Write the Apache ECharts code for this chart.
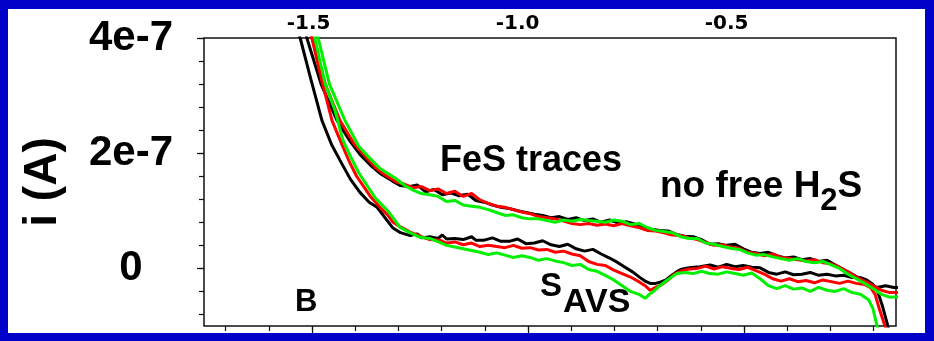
<!DOCTYPE html>
<html>
<head>
<meta charset="utf-8">
<title>i (A) traces</title>
<script src="https://cdn.jsdelivr.net/npm/echarts@6/dist/echarts.min.js"></script>
<style>
  html, body { margin: 0; padding: 0; background: #0000c8; }
  #paper { position: absolute; left: 8px; top: 9px; width: 917px; height: 324px; background: #fff; }
  #chart { position: absolute; left: 0; top: 0; width: 934px; height: 341px; }
</style>
</head>
<body>
<div id="paper"></div>
<div id="chart"></div>
<script>
// potential (V) vs current (unit 1e-7 A)
const topLabels = [-1.5, -1.0, -0.5]
const bottomTicks = [-1.7, -1.6, -1.5, -1.4, -1.3, -1.2, -1.1, -1.0, -0.9, -0.8, -0.7, -0.6, -0.5, -0.4, -0.3, -0.2]
const bottomMajor = [-1.5, -1.0, -0.5]
const yLabels = [0, 2, 4]
const yTicks = [-0.8, -0.4, 0, 0.4, 0.8, 1.2, 1.6, 2.0, 2.4, 2.8, 3.2, 3.6, 4.0]

// lower group (S AVS)
const savsBlack = [
  [-1.525, 4.1], [-1.52, 4.0], [-1.495, 3.3], [-1.468, 2.57], [-1.445, 2.15], [-1.425, 1.88],
  [-1.40, 1.55], [-1.377, 1.32], [-1.355, 1.15], [-1.336, 1.06], [-1.315, 0.86], [-1.298, 0.70],
  [-1.28, 0.62], [-1.257, 0.57], [-1.24, 0.60], [-1.23, 0.53], [-1.21, 0.55], [-1.19, 0.52],
  [-1.18, 0.58], [-1.17, 0.51], [-1.15, 0.52], [-1.13, 0.50], [-1.11, 0.55], [-1.10, 0.49],
  [-1.08, 0.49], [-1.06, 0.53], [-1.04, 0.47], [-1.02, 0.47], [-1.00, 0.51], [-0.98, 0.43],
  [-0.96, 0.44], [-0.94, 0.48], [-0.92, 0.41], [-0.90, 0.38], [-0.88, 0.42], [-0.86, 0.34],
  [-0.84, 0.30], [-0.82, 0.33], [-0.80, 0.25], [-0.78, 0.18], [-0.76, 0.10], [-0.743, 0.02],
  [-0.725, -0.06], [-0.707, -0.16], [-0.695, -0.22], [-0.683, -0.26], [-0.67, -0.26], [-0.659, -0.24],
  [-0.645, -0.20], [-0.635, -0.14], [-0.62, -0.06], [-0.61, -0.02], [-0.59, 0.01], [-0.564, 0.03],
  [-0.54, 0.06], [-0.52, 0.02], [-0.50, 0.07], [-0.48, 0.03], [-0.46, 0.05], [-0.44, 0.02],
  [-0.42, 0.01], [-0.40, -0.07], [-0.38, -0.10], [-0.36, -0.06], [-0.34, -0.11], [-0.32, -0.10],
  [-0.30, -0.07], [-0.28, -0.12], [-0.26, -0.10], [-0.24, -0.13], [-0.22, -0.12], [-0.20, -0.16],
  [-0.18, -0.16], [-0.165, -0.20], [-0.15, -0.28], [-0.14, -0.38], [-0.128, -0.64], [-0.114, -1.01],
  [-0.108, -1.2]
]
const savsRed = [
  [-1.497, 4.1], [-1.492, 4.0], [-1.468, 3.25], [-1.444, 2.57], [-1.42, 2.15], [-1.401, 1.83],
  [-1.385, 1.60], [-1.370, 1.44], [-1.35, 1.23], [-1.329, 1.06], [-1.31, 0.92], [-1.298, 0.80],
  [-1.28, 0.72], [-1.257, 0.63], [-1.23, 0.55], [-1.21, 0.50], [-1.186, 0.49], [-1.17, 0.44],
  [-1.15, 0.46], [-1.13, 0.41], [-1.11, 0.44], [-1.09, 0.38], [-1.07, 0.40], [-1.05, 0.38],
  [-1.03, 0.36], [-1.01, 0.40], [-0.99, 0.35], [-0.97, 0.36], [-0.95, 0.32], [-0.93, 0.33],
  [-0.91, 0.28], [-0.89, 0.30], [-0.87, 0.25], [-0.85, 0.22], [-0.83, 0.12], [-0.81, 0.07],
  [-0.79, 0.05], [-0.77, -0.03], [-0.75, -0.09], [-0.73, -0.15], [-0.71, -0.23], [-0.695, -0.30],
  [-0.683, -0.38], [-0.67, -0.33], [-0.655, -0.28], [-0.64, -0.20], [-0.625, -0.10], [-0.61, -0.05],
  [-0.59, -0.01], [-0.57, 0.0], [-0.55, 0.04], [-0.53, -0.01], [-0.51, 0.03], [-0.49, 0.0],
  [-0.47, -0.02], [-0.45, 0.02], [-0.43, -0.04], [-0.41, -0.10], [-0.39, -0.18], [-0.37, -0.22],
  [-0.35, -0.18], [-0.33, -0.23], [-0.31, -0.21], [-0.29, -0.25], [-0.27, -0.20], [-0.25, -0.23],
  [-0.23, -0.26], [-0.21, -0.22], [-0.19, -0.26], [-0.17, -0.28], [-0.155, -0.34], [-0.145, -0.45],
  [-0.135, -0.70], [-0.121, -1.01], [-0.115, -1.2]
]
const savsGreen = [
  [-1.49, 4.1], [-1.485, 4.0], [-1.46, 3.2], [-1.437, 2.75], [-1.418, 2.23], [-1.40, 1.95],
  [-1.38, 1.66], [-1.36, 1.44], [-1.34, 1.22], [-1.312, 1.01], [-1.295, 0.85], [-1.281, 0.71],
  [-1.26, 0.63], [-1.233, 0.54], [-1.21, 0.52], [-1.186, 0.45], [-1.17, 0.40], [-1.15, 0.37],
  [-1.13, 0.34], [-1.11, 0.31], [-1.09, 0.28], [-1.07, 0.24], [-1.05, 0.27], [-1.03, 0.23],
  [-1.01, 0.19], [-0.99, 0.22], [-0.97, 0.19], [-0.95, 0.14], [-0.93, 0.17], [-0.91, 0.13],
  [-0.89, 0.10], [-0.87, 0.05], [-0.85, 0.07], [-0.83, -0.02], [-0.81, -0.05], [-0.79, -0.12],
  [-0.77, -0.20], [-0.75, -0.30], [-0.73, -0.40], [-0.71, -0.45], [-0.695, -0.52], [-0.685, -0.45],
  [-0.675, -0.40], [-0.66, -0.30], [-0.645, -0.22], [-0.63, -0.14], [-0.619, -0.09], [-0.60, -0.07],
  [-0.58, -0.09], [-0.56, -0.05], [-0.54, -0.09], [-0.52, -0.10], [-0.50, -0.06], [-0.48, -0.09],
  [-0.46, -0.12], [-0.44, -0.08], [-0.42, -0.18], [-0.40, -0.30], [-0.38, -0.35], [-0.36, -0.30],
  [-0.34, -0.36], [-0.32, -0.34], [-0.30, -0.40], [-0.28, -0.33], [-0.26, -0.38], [-0.24, -0.40],
  [-0.22, -0.35], [-0.20, -0.42], [-0.18, -0.45], [-0.16, -0.55], [-0.15, -0.70], [-0.14, -1.01],
  [-0.135, -1.2]
]

// upper group (FeS traces)
const fesBlack = [
  [-1.51, 4.2], [-1.504, 4.0], [-1.47, 3.2], [-1.432, 2.57], [-1.40, 2.2], [-1.377, 1.98],
  [-1.35, 1.78], [-1.329, 1.65], [-1.30, 1.52], [-1.281, 1.44], [-1.26, 1.42], [-1.24, 1.45],
  [-1.22, 1.33], [-1.20, 1.37], [-1.18, 1.28], [-1.16, 1.31], [-1.14, 1.26], [-1.12, 1.29],
  [-1.10, 1.18], [-1.08, 1.15], [-1.06, 1.10], [-1.04, 1.06], [-1.02, 1.04], [-1.00, 1.00],
  [-0.98, 0.97], [-0.96, 0.94], [-0.94, 0.92], [-0.92, 0.88], [-0.90, 0.90], [-0.88, 0.85],
  [-0.86, 0.88], [-0.84, 0.83], [-0.82, 0.86], [-0.80, 0.80], [-0.78, 0.84], [-0.76, 0.79],
  [-0.74, 0.81], [-0.72, 0.77], [-0.70, 0.72], [-0.68, 0.68], [-0.66, 0.66], [-0.64, 0.65],
  [-0.62, 0.59], [-0.60, 0.56], [-0.58, 0.55], [-0.56, 0.50], [-0.54, 0.42], [-0.52, 0.43],
  [-0.50, 0.40], [-0.48, 0.42], [-0.46, 0.34], [-0.44, 0.28], [-0.42, 0.26], [-0.40, 0.28],
  [-0.38, 0.22], [-0.36, 0.18], [-0.34, 0.20], [-0.32, 0.15], [-0.30, 0.17], [-0.28, 0.12],
  [-0.26, 0.14], [-0.24, 0.06], [-0.22, -0.02], [-0.20, -0.10], [-0.18, -0.18], [-0.16, -0.27],
  [-0.14, -0.33], [-0.12, -0.30], [-0.10, -0.33], [-0.09, -0.33]
]
const fesRed = [
  [-1.497, 4.2], [-1.492, 4.0], [-1.46, 3.2], [-1.425, 2.57], [-1.39, 2.15], [-1.365, 1.95],
  [-1.34, 1.75], [-1.317, 1.62], [-1.29, 1.50], [-1.27, 1.46], [-1.25, 1.40], [-1.23, 1.42],
  [-1.21, 1.35], [-1.19, 1.38], [-1.17, 1.30], [-1.15, 1.34], [-1.13, 1.25], [-1.11, 1.30],
  [-1.09, 1.19], [-1.07, 1.13], [-1.05, 1.08], [-1.03, 1.06], [-1.01, 1.02], [-0.99, 0.98],
  [-0.97, 0.95], [-0.95, 0.90], [-0.93, 0.88], [-0.91, 0.86], [-0.89, 0.82], [-0.87, 0.78],
  [-0.85, 0.76], [-0.83, 0.78], [-0.81, 0.75], [-0.79, 0.77], [-0.77, 0.74], [-0.75, 0.78],
  [-0.73, 0.74], [-0.71, 0.71], [-0.69, 0.66], [-0.67, 0.65], [-0.65, 0.62], [-0.63, 0.58],
  [-0.61, 0.57], [-0.59, 0.53], [-0.57, 0.50], [-0.55, 0.45], [-0.53, 0.40], [-0.51, 0.41],
  [-0.49, 0.37], [-0.47, 0.35], [-0.45, 0.28], [-0.43, 0.26], [-0.41, 0.22], [-0.39, 0.25],
  [-0.37, 0.19], [-0.35, 0.17], [-0.33, 0.15], [-0.31, 0.13], [-0.29, 0.15], [-0.27, 0.10],
  [-0.25, 0.08], [-0.23, 0.02], [-0.21, -0.06], [-0.19, -0.15], [-0.17, -0.22], [-0.15, -0.30],
  [-0.13, -0.38], [-0.11, -0.42], [-0.09, -0.42]
]
const fesGreen = [
  [-1.484, 4.2], [-1.477, 4.0], [-1.45, 3.2], [-1.413, 2.57], [-1.38, 2.12], [-1.353, 1.91],
  [-1.33, 1.74], [-1.293, 1.57], [-1.27, 1.44], [-1.25, 1.36], [-1.23, 1.30], [-1.21, 1.28],
  [-1.19, 1.25], [-1.17, 1.16], [-1.15, 1.18], [-1.13, 1.10], [-1.11, 1.08], [-1.09, 1.06],
  [-1.07, 1.02], [-1.05, 0.97], [-1.03, 0.92], [-1.01, 0.93], [-0.99, 0.88], [-0.97, 0.86],
  [-0.95, 0.86], [-0.93, 0.83], [-0.91, 0.80], [-0.89, 0.84], [-0.87, 0.82], [-0.85, 0.85],
  [-0.83, 0.83], [-0.81, 0.82], [-0.79, 0.80], [-0.77, 0.84], [-0.75, 0.82], [-0.73, 0.76],
  [-0.71, 0.78], [-0.69, 0.71], [-0.67, 0.66], [-0.65, 0.64], [-0.63, 0.62], [-0.61, 0.55],
  [-0.59, 0.52], [-0.57, 0.52], [-0.55, 0.44], [-0.53, 0.42], [-0.51, 0.38], [-0.49, 0.35],
  [-0.47, 0.33], [-0.45, 0.27], [-0.43, 0.23], [-0.41, 0.24], [-0.39, 0.20], [-0.37, 0.17],
  [-0.35, 0.14], [-0.33, 0.17], [-0.31, 0.12], [-0.29, 0.10], [-0.27, 0.12], [-0.25, 0.06],
  [-0.23, 0.0], [-0.21, -0.10], [-0.19, -0.18], [-0.17, -0.26], [-0.15, -0.35], [-0.13, -0.45],
  [-0.11, -0.50], [-0.09, -0.49]
]

const traces = [
  { data: savsBlack, color: '#000000' },
  { data: fesBlack, color: '#000000' },
  { data: savsRed, color: '#ff0000' },
  { data: fesRed, color: '#ff0000' },
  { data: savsGreen, color: '#00f000' },
  { data: fesGreen, color: '#00f000' }
]

const FONT = 'Liberation Sans, Arial, sans-serif'
const gridPos = { left: 204, top: 38, width: 692, height: 288 }
const tickStyle = { color: '#111', width: 1.2 }

const chart = echarts.init(document.getElementById('chart'))

const option = {
  animation: false,
  backgroundColor: 'transparent',
  grid: [
    Object.assign({ show: true, borderColor: '#111', borderWidth: 1.5, backgroundColor: 'transparent' }, gridPos),
    Object.assign({ show: false }, gridPos)
  ],
  xAxis: [
    // 上方坐标轴，只有文字
    {
      type: 'value', gridIndex: 0, position: 'top',
      min: -1.75, max: -0.095,
      axisLine: { show: false, onZero: false },
      axisTick: { show: false },
      splitLine: { show: false },
      axisLabel: {
        customValues: topLabels,
        formatter: v => v.toFixed(1),
        margin: 4,
        color: '#000',
        fontFamily: 'DejaVu Sans',
        fontWeight: 'bold',
        fontSize: 20
      }
    },
    // 下方坐标轴，小刻度
    {
      type: 'value', gridIndex: 0, position: 'bottom',
      min: -1.75, max: -0.148,
      axisLine: { show: false, onZero: false },
      axisTick: { show: true, customValues: bottomTicks, length: 5, lineStyle: tickStyle },
      axisLabel: { show: false },
      splitLine: { show: false }
    },
    // 下方坐标轴，大刻度
    {
      type: 'value', gridIndex: 1, position: 'bottom',
      min: -1.75, max: -0.148,
      axisLine: { show: false, onZero: false },
      axisTick: { show: true, customValues: bottomMajor, length: 7, lineStyle: tickStyle },
      axisLabel: { show: false },
      splitLine: { show: false }
    }
  ],
  yAxis: [
    {
      type: 'value', gridIndex: 0, position: 'left',
      min: -1, max: 4,
      name: 'i (A)',
      nameLocation: 'middle',
      nameRotate: 90,
      nameGap: 138,
      nameTextStyle: { color: '#000', fontFamily: FONT, fontWeight: 'bold', fontSize: 46 },
      axisLine: { show: false, onZero: false },
      axisTick: { show: true, customValues: yTicks, length: 5, lineStyle: tickStyle },
      splitLine: { show: false },
      axisLabel: {
        customValues: yLabels,
        formatter: v => (v === 0 ? '0' : v + 'e-7'),
        align: 'center',
        margin: 73,
        color: '#000',
        fontFamily: FONT,
        fontWeight: 'bold',
        fontSize: 42
      }
    },
    {
      type: 'value', gridIndex: 1, position: 'left',
      min: -1, max: 4,
      axisLine: { show: false, onZero: false },
      axisTick: { show: true, customValues: yLabels, length: 7, lineStyle: tickStyle },
      axisLabel: { show: false },
      splitLine: { show: false }
    }
  ],
  // 图中的文字标注
  graphic: [
    { type: 'text', x: 440, y: 161, style: { text: 'FeS traces', font: 'bold 36px ' + FONT, fill: '#000', verticalAlign: 'middle' } },
    {
      type: 'text', x: 660, y: 187,
      style: {
        text: '{a|no free H}{b|2}{a|S}',
        fill: '#000',
        verticalAlign: 'middle',
        rich: {
          a: { font: 'bold 37px ' + FONT, fill: '#000' },
          b: { font: 'bold 31px ' + FONT, fill: '#000', padding: [29, 0, 0, 0] }
        }
      }
    },
    { type: 'text', x: 540, y: 287, style: { text: 'S', font: 'bold 33px ' + FONT, fill: '#000', verticalAlign: 'middle' } },
    { type: 'text', x: 563, y: 303, style: { text: 'AVS', font: 'bold 34px ' + FONT, fill: '#000', verticalAlign: 'middle' } },
    { type: 'text', x: 295, y: 302, style: { text: 'B', font: 'bold 31px ' + FONT, fill: '#000', verticalAlign: 'middle' } }
  ],
  series: traces.map(t => ({
    type: 'line',
    xAxisIndex: 0,
    yAxisIndex: 0,
    data: t.data,
    showSymbol: false,
    symbol: 'none',
    clip: true,
    lineStyle: { color: t.color, width: 3 },
    itemStyle: { color: t.color }
  }))
}

chart.setOption(option)
</script>
</body>
</html>
